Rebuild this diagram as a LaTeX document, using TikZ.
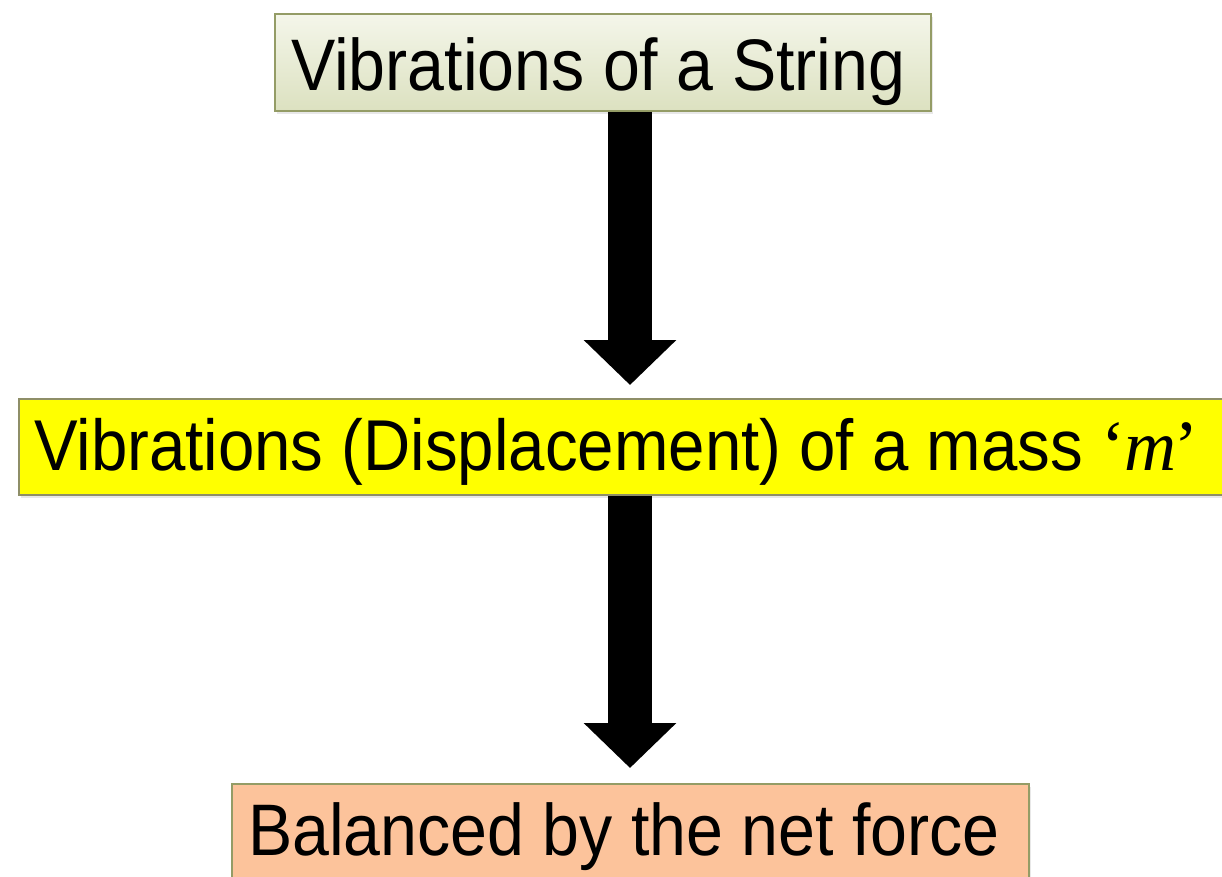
\documentclass[tikz,border=0pt]{standalone}
\usepackage{fontspec}
\setmainfont{Liberation Sans}[FakeStretch=0.908]
\newfontfamily\quotefont{Liberation Serif}
\usetikzlibrary{arrows.meta,shadows}
\definecolor{olive}{HTML}{949C66}
\definecolor{creamtop}{HTML}{F4F6EA}
\definecolor{creambot}{HTML}{DCE1C0}
\definecolor{peach}{HTML}{FCC39B}
\definecolor{boxgray}{HTML}{8E8E68}
\definecolor{brightyellow}{HTML}{FFFF00}
\tikzset{
  box/.style={draw=olive, line width=1.5pt, inner sep=0pt,
    drop shadow={opacity=0.18, shadow xshift=2pt, shadow yshift=-3pt}},
  label/.style={anchor=base west, inner sep=0pt, font=\fontsize{73}{80}\selectfont},
  bigarrow/.style={line width=44pt, -{Triangle[width=90pt,length=45pt]}, black},
}
\begin{document}
\begin{tikzpicture}[x=1pt,y=-1pt]
\useasboundingbox (0,0) rectangle (1222,876);
\clip (0,0) rectangle (1222,876);
% boxes
\node[box, top color=creamtop, bottom color=creambot, minimum width=656pt, minimum height=97pt] (b1) at (603,62.5) {};
\node[box, fill=brightyellow, draw=boxgray, minimum width=1230pt, minimum height=96pt] (b2) at (634,447) {};
\node[box, fill=peach, minimum width=797pt, minimum height=96pt] (b3) at (630.5,832) {};
% texts
\node[label] (t1) at (291,90) {Vibrations of a String};
\node[label, font=\fontsize{72}{80}\selectfont] (t2) at (34,470) {Vibrations (Displacement) of a mass {\quotefont ‘\kern-1pt\textit{m}\kern-2pt’}};
\node[label] (t3) at (248,855) {Balanced by the net force};
% arrows
\coordinate (a1s) at (630,0 |- b1.south);
\coordinate (a1e) at (630,385);
\coordinate (a2s) at (630,0 |- b2.south);
\coordinate (a2e) at (630,768);
\draw[bigarrow] (a1s) -- (a1e);
\draw[bigarrow] (a2s) -- (a2e);
\end{tikzpicture}
\end{document}
